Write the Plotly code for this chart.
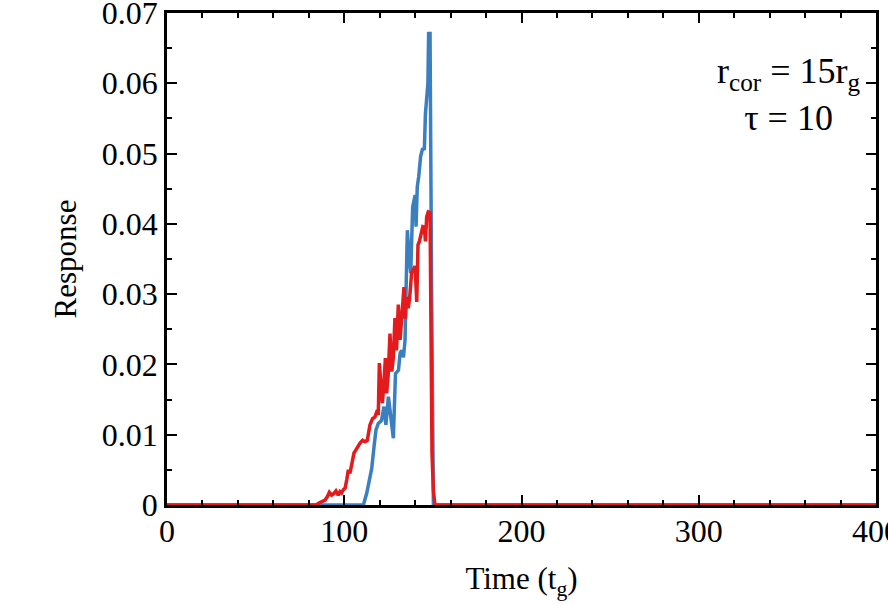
import plotly.graph_objects as go

# Blue series (time in t_g, response)
blue_t = [0, 110.8, 112.7, 114.5, 115.5, 116.8, 117.9, 119.2, 121.0, 122.4, 123.5, 124.9,
          126.2, 127.7, 128.9, 130.6, 131.5, 132.4, 133.4, 134.3, 134.8, 135.6, 136.7,
          137.5, 138.6, 139.4, 140.0, 140.5, 141.2, 142.0, 143.1, 144.1, 145.2, 145.8,
          146.5, 147.2, 147.6, 148.4, 149.3, 150.3, 400]
blue_r = [0, 0, 0.0017, 0.0038, 0.0052, 0.0083, 0.0107, 0.0116, 0.0120, 0.0140, 0.0114, 0.0154,
          0.0126, 0.0095, 0.0187, 0.0192, 0.0216, 0.0220, 0.0210, 0.0235, 0.0296, 0.0391, 0.0349,
          0.0330, 0.0424, 0.0439, 0.0441, 0.0396, 0.0453, 0.0467, 0.0496, 0.0506, 0.0507, 0.0557,
          0.0580, 0.0600, 0.0671, 0.0671, 0.0300, 0, 0]

# Red series
red_t = [0, 84.0, 86.0, 87.3, 89.2, 90.5, 91.6, 92.9, 94.0, 95.3, 96.6, 97.6, 98.5, 99.5,
         100.5, 101.4, 102.3, 103.2, 104.2, 105.5, 106.5, 107.6, 108.9, 110.4, 111.7, 113.0,
         114.5, 116.0, 117.3, 118.7, 119.2, 119.8, 120.6, 121.5, 122.4, 123.2, 123.9, 124.8,
         125.8, 126.8, 127.7, 128.6, 129.5, 130.5, 131.5, 132.6, 133.7, 134.4, 135.2, 136.1,
         136.9, 138.0, 139.0, 140.0, 140.9, 141.6, 142.4, 143.3, 144.3, 145.2, 145.8, 146.5,
         147.4, 148.4, 148.9, 149.5, 150.3, 151.2, 400]
red_r = [0, 0, 0.0003, 0.0005, 0.0007, 0.0012, 0.0018, 0.0014, 0.0016, 0.0020, 0.0014, 0.0019,
         0.0017, 0.0022, 0.0024, 0.0036, 0.0050, 0.0045, 0.0059, 0.0074, 0.0078, 0.0083, 0.0088,
         0.0092, 0.0090, 0.0092, 0.0114, 0.0123, 0.0125, 0.0135, 0.0128, 0.0202, 0.0180, 0.0145,
         0.0173, 0.0209, 0.0159, 0.0185, 0.0244, 0.0190, 0.0210, 0.0266, 0.0220, 0.0285, 0.0235,
         0.0280, 0.0310, 0.0265, 0.0296, 0.0280, 0.0295, 0.0330, 0.0336, 0.0340, 0.0289, 0.0370,
         0.0375, 0.0387, 0.0396, 0.0395, 0.0375, 0.0410, 0.0417, 0.0416, 0.0250, 0.0074, 0.0020,
         0, 0]

x_ticks = [0, 100, 200, 300, 400]
y_ticks = [0, 0.01, 0.02, 0.03, 0.04, 0.05, 0.06, 0.07]
y_ticklabels = ["0", "0.01", "0.02", "0.03", "0.04", "0.05", "0.06", "0.07"]

FONT = "Liberation Serif"

fig = go.Figure()
fig.add_trace(go.Scatter(x=blue_t, y=blue_r, mode="lines",
                         line=dict(color="#3a7fc0", width=3.5), showlegend=False))
fig.add_trace(go.Scatter(x=red_t, y=red_r, mode="lines",
                         line=dict(color="#e41a1c", width=3.5), showlegend=False))

axis_common = dict(
    showline=True, linecolor="black", linewidth=2.5, mirror="allticks",
    ticks="inside", ticklen=10, tickwidth=1.5, tickcolor="black",
    showgrid=False, zeroline=False, ticklabeloverflow="allow", automargin=False,
    tickfont=dict(family=FONT, size=32, color="black"),
)

fig.update_xaxes(range=[0, 400], tickvals=x_ticks,
                 minor=dict(dtick=20, ticks="inside", ticklen=5, tickwidth=1.5, tickcolor="black"),
                 title=dict(text="Time (t<sub>g</sub>)", font=dict(family=FONT, size=31, color="black"),
                            standoff=20),
                 ticklabelstandoff=-4,
                 **axis_common)
fig.update_yaxes(range=[0, 0.07], tickvals=y_ticks, ticktext=y_ticklabels,
                 minor=dict(dtick=0.005, ticks="inside", ticklen=5, tickwidth=1.5, tickcolor="black"),
                 title=dict(text="Response", font=dict(family=FONT, size=31, color="black"),
                            standoff=16),
                 ticklabelstandoff=0,
                 **axis_common)

fig.add_annotation(x=0.876, y=0.835, xref="paper", yref="paper",
                   text="r<sub>cor</sub> = 15r<sub>g</sub><br>τ = 10",
                   showarrow=False, align="center", xanchor="center", yanchor="middle",
                   font=dict(family=FONT, size=36, color="black"))

fig.update_layout(width=888, height=605, plot_bgcolor="white", paper_bgcolor="white",
                  margin=dict(l=167, r=12, t=13, b=100))

fig.write_html("out.html")
